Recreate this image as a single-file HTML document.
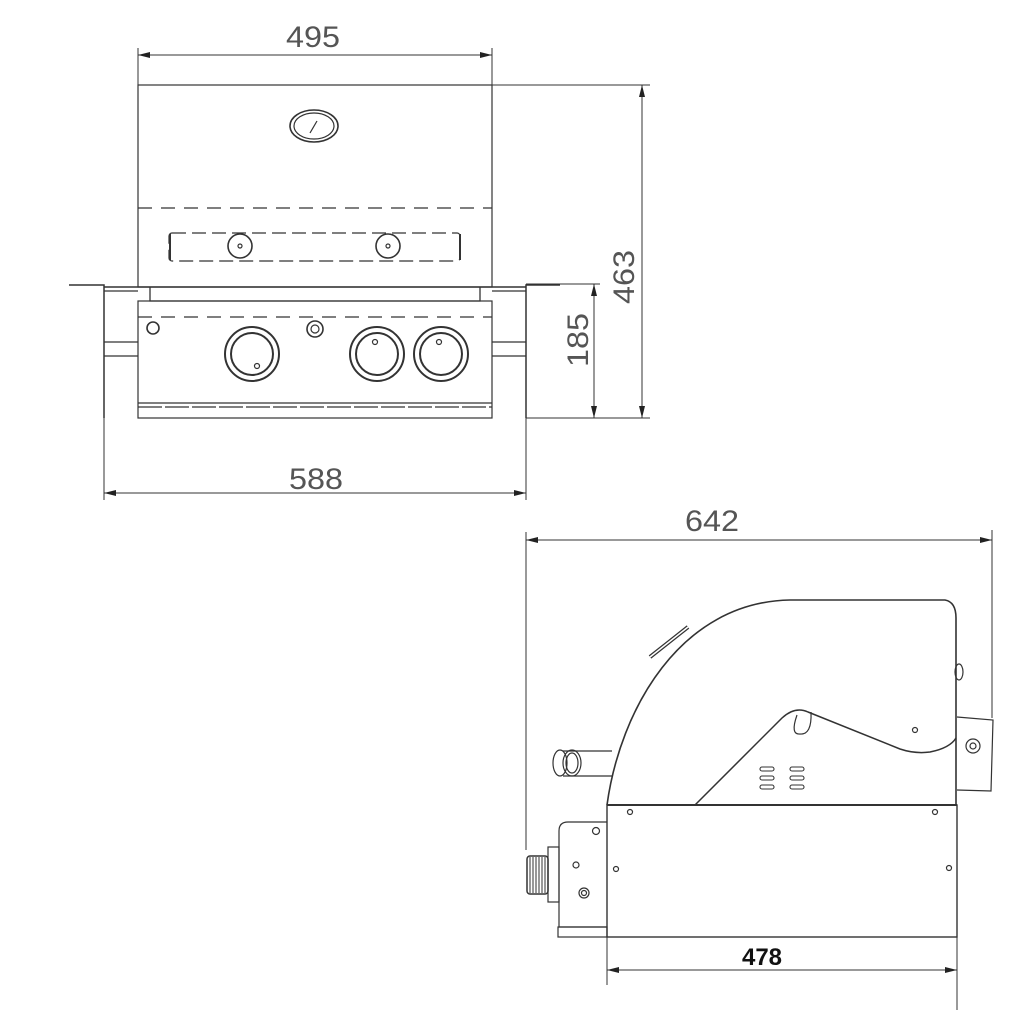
<!DOCTYPE html>
<html><head><meta charset="utf-8"><style>html,body{margin:0;padding:0;background:#fff}svg{display:block}</style></head>
<body>
<svg width="1030" height="1030" viewBox="0 0 1030 1030" xmlns="http://www.w3.org/2000/svg">
<defs>
<marker id="a" viewBox="0 0 12 6" refX="12" refY="3" markerWidth="12" markerHeight="6" orient="auto-start-reverse" markerUnits="userSpaceOnUse"><path d="M0,0L12,3L0,6z" fill="#222"/></marker>
</defs>
<g fill="none" stroke="#333" stroke-width="1.2">
<line x1="138" y1="48" x2="138" y2="86" stroke-width="1"/>
<line x1="492" y1="48" x2="492" y2="86" stroke-width="1"/>
<line x1="138" y1="55" x2="492" y2="55" stroke-width="1" marker-start="url(#a)" marker-end="url(#a)"/>
<line x1="492" y1="85" x2="650" y2="85" stroke-width="1"/>
<line x1="526" y1="418" x2="650" y2="418" stroke-width="1"/>
<line x1="526" y1="284" x2="600" y2="284" stroke-width="1"/>
<line x1="642" y1="85" x2="642" y2="418" stroke-width="1" marker-start="url(#a)" marker-end="url(#a)"/>
<line x1="594" y1="284" x2="594" y2="418" stroke-width="1" marker-start="url(#a)" marker-end="url(#a)"/>
<line x1="104" y1="418" x2="104" y2="500" stroke-width="1"/>
<line x1="526" y1="418" x2="526" y2="500" stroke-width="1"/>
<line x1="104" y1="493" x2="526" y2="493" stroke-width="1" marker-start="url(#a)" marker-end="url(#a)"/>

<rect x="138" y="85" width="354" height="202"/>
<line x1="138" y1="208" x2="492" y2="208" stroke-dasharray="14,9"/>
<rect x="169" y="233" width="291" height="28" rx="3" stroke-dasharray="14,6"/>
<line x1="170" y1="234" x2="170" y2="260" stroke-width="2"/>
<line x1="460" y1="234" x2="460" y2="260" stroke-width="2"/>
<circle cx="240" cy="246" r="12" stroke-width="1.6"/><circle cx="240" cy="246" r="2"/>
<circle cx="388" cy="246" r="12" stroke-width="1.6"/><circle cx="388" cy="246" r="2"/>
<ellipse cx="314" cy="126" rx="24" ry="16" stroke-width="1.6"/>
<ellipse cx="314" cy="126" rx="20" ry="13"/>
<line x1="310" y1="133" x2="317" y2="121"/>

<polyline points="69,285 104,285 104,418" stroke-width="1.5"/>
<polyline points="560,285 526,285 526,418" stroke-width="1.5"/>
<line x1="104" y1="291" x2="138" y2="291"/>
<line x1="104" y1="342" x2="138" y2="342"/>
<line x1="104" y1="356" x2="138" y2="356"/>
<line x1="492" y1="291" x2="526" y2="291"/>
<line x1="492" y1="342" x2="526" y2="342"/>
<line x1="492" y1="356" x2="526" y2="356"/>
<line x1="104" y1="287" x2="526" y2="287" stroke-width="1.5"/>
<polyline points="150,287 150,301 480,301 480,287" stroke-width="1.3"/>
<rect x="138" y="301" width="354" height="117"/>
<line x1="138" y1="317" x2="492" y2="317" stroke-dasharray="14,9"/>
<line x1="138" y1="403" x2="492" y2="403"/>
<line x1="138" y1="407" x2="492" y2="407" stroke-dasharray="24,3"/>
<circle cx="153" cy="328" r="6" stroke-width="1.6"/>
<circle cx="315" cy="329" r="8" stroke-width="1.6"/><circle cx="315" cy="329" r="4"/>
<g stroke-width="2">
<circle cx="252" cy="354" r="27"/><circle cx="252" cy="354" r="21"/>
<circle cx="377" cy="354" r="27"/><circle cx="377" cy="354" r="21"/>
<circle cx="441" cy="354" r="27"/><circle cx="441" cy="354" r="21"/>
</g>
<circle cx="257" cy="366" r="2.5"/><circle cx="375" cy="342" r="2.5"/><circle cx="439" cy="342" r="2.5"/>

<line x1="526" y1="532" x2="526" y2="850" stroke-width="1"/>
<line x1="992" y1="530" x2="992" y2="718" stroke-width="1"/>
<line x1="526" y1="540" x2="992" y2="540" stroke-width="1" marker-start="url(#a)" marker-end="url(#a)"/>
<line x1="607" y1="937" x2="607" y2="985" stroke-width="1"/>
<line x1="957" y1="937" x2="957" y2="1010" stroke-width="1"/>
<line x1="607" y1="970" x2="957" y2="970" stroke-width="1" marker-start="url(#a)" marker-end="url(#a)"/>

<rect x="607" y="805" width="350" height="132" stroke-width="1.4"/>
<line x1="607" y1="805" x2="957" y2="805" stroke-width="2"/>
<path d="M607,805 C620,710 680,602 790,600 L945,600 Q956,602 956,618 L956,805" stroke-width="1.6"/>
<path d="M695,805 L782,718 Q795,706 808,712 L900,749 Q915,754 930,752 Q950,748 956,738" stroke-width="1.5"/>
<path d="M797,715 Q790,735 800,734 Q812,735 811,712"/>
<g stroke-width="1.1">
<rect x="760" y="767" width="14" height="4" rx="2"/><rect x="760" y="776" width="14" height="4" rx="2"/><rect x="760" y="785" width="14" height="4" rx="2"/>
<rect x="790" y="767" width="14" height="4" rx="2"/><rect x="790" y="776" width="14" height="4" rx="2"/><rect x="790" y="785" width="14" height="4" rx="2"/>
</g>
<circle cx="915" cy="730" r="2.5"/>
<line x1="650" y1="657" x2="688" y2="627" stroke-width="4"/>
<line x1="650" y1="657" x2="688" y2="627" stroke="#fff" stroke-width="1.5"/>
<path d="M563,751 L612,751 M563,776 L612,776"/>
<ellipse cx="560" cy="763" rx="7" ry="13"/>
<ellipse cx="572" cy="763" rx="9" ry="13"/>
<ellipse cx="572" cy="763" rx="6" ry="10"/>
<path d="M957,717 L993,720 L991,791 L957,790"/>
<circle cx="973" cy="746" r="7"/><circle cx="973" cy="746" r="3"/>
<ellipse cx="959" cy="672" rx="4" ry="8"/>
<circle cx="630" cy="812" r="2.5"/><circle cx="935" cy="812" r="2.5"/>
<circle cx="616" cy="869" r="2.5"/><circle cx="949" cy="868" r="2.5"/>
<path d="M607,822 L568,822 Q559,822 559,831 L559,927 L607,927"/>
<rect x="558" y="927" width="49" height="10"/>
<rect x="548" y="847" width="11" height="55"/>
<rect x="527" y="856" width="21" height="38" rx="3" stroke-width="1.5"/>
<g stroke-width="1">
<line x1="530" y1="857" x2="530" y2="893"/><line x1="533" y1="857" x2="533" y2="893"/><line x1="536" y1="857" x2="536" y2="893"/><line x1="539" y1="857" x2="539" y2="893"/><line x1="542" y1="857" x2="542" y2="893"/><line x1="545" y1="857" x2="545" y2="893"/>
</g>
<circle cx="596" cy="831" r="3.5"/>
<circle cx="576" cy="865" r="3"/>
<circle cx="584" cy="893" r="5"/><circle cx="584" cy="893" r="2.5"/>
</g>
<g font-family="'Liberation Sans', sans-serif" fill="#555" font-size="30" text-anchor="middle">
<text x="313" y="47" textLength="54" lengthAdjust="spacingAndGlyphs">495</text>
<text x="316" y="489" textLength="54" lengthAdjust="spacingAndGlyphs">588</text>
<text x="712" y="531" textLength="54" lengthAdjust="spacingAndGlyphs">642</text>
<text transform="translate(634,277) rotate(-90)" textLength="54" lengthAdjust="spacingAndGlyphs">463</text>
<text transform="translate(588,340) rotate(-90)" textLength="54" lengthAdjust="spacingAndGlyphs">185</text>
<text x="762" y="965" font-size="24" fill="#111" font-weight="bold">478</text>
</g>
</svg>
</body></html>
